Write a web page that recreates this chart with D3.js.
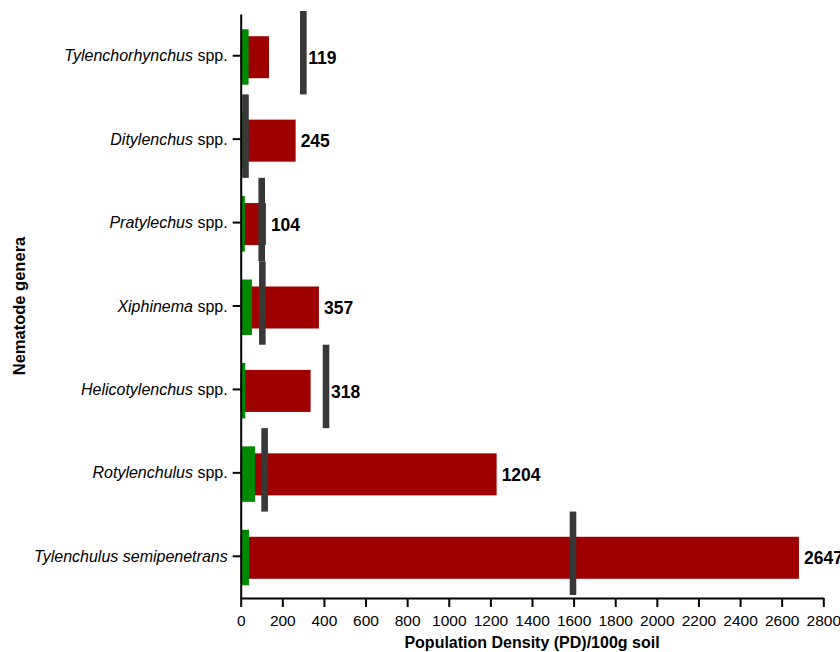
<!DOCTYPE html>
<html>
<head>
<meta charset="utf-8">
<script src="https://cdn.jsdelivr.net/npm/d3@7"></script>
<style>
  body { margin: 0; background: #fff; }
  svg { display: block; font-family: Arial, "Liberation Sans", sans-serif; }
</style>
</head>
<body>
<svg id="chart" width="840" height="652"></svg>
<script>
// genus (italic) + suffix (upright)
const genus  = ["Tylenchorhynchus", "Ditylenchus", "Pratylechus", "Xiphinema", "Helicotylenchus", "Rotylenchulus", "Tylenchulus semipenetrans"]
const suffix = [" spp.", " spp.", " spp.", " spp.", " spp.", " spp.", ""]

// values
const greenPD  = [38, 35, 20, 54, 22, 69, 40]
const redPD    = [136, 264, 121, 376, 336, 1230, 2683]
const markerPD = [301, 23, 101, 104, 410, 115, 1597]
const valueLabels = ["119", "245", "104", "357", "318", "1204", "2647"]

const xTicks = d3.range(0, 2801, 200)

const svg = d3.select("#chart")
const plotLeft = 240.7, plotRight = 823.3, plotTop = 14, plotBottom = 598

const x = d3.scaleLinear().domain([0, 2800]).range([plotLeft, plotRight])
const y = d3.scaleBand().domain(genus).range([plotTop, plotBottom])
const bw = y.bandwidth()

const rows = genus.map((g, i) => ({
	g: g, s: suffix[i], green: greenPD[i], red: redPD[i], marker: markerPD[i], label: valueLabels[i]
}))

// red bars
svg.append("g").selectAll("rect")
	.data(rows).join("rect")
	.attr("x", x(0))
	.attr("y", d => y(d.g) + bw / 2 - 21 + 1.5)
	.attr("width", d => x(d.red) - x(0))
	.attr("height", 42)
	.attr("fill", "#9e0000")

// green bars
svg.append("g").selectAll("rect")
	.data(rows).join("rect")
	.attr("x", x(0) + 1)
	.attr("y", d => y(d.g) + bw / 2 - 27.5 + 1)
	.attr("width", d => x(d.green) - x(0) - 1)
	.attr("height", 55.5)
	.attr("fill", "#008a00")

// grey markers
svg.append("g").selectAll("rect")
	.data(rows).join("rect")
	.attr("x", d => x(d.marker) - 3.3)
	.attr("y", d => y(d.g) - 3)
	.attr("width", 6.6)
	.attr("height", bw)
	.attr("fill", "#383838")

// value labels
svg.append("g").selectAll("text")
	.data(rows).join("text")
	.attr("x", d => x(Math.max(d.red, d.marker)) + 5)
	.attr("y", d => y(d.g) + bw / 2 + 2)
	.attr("dy", "0.35em")
	.attr("font-size", 17.5)
	.attr("font-weight", "bold")
	.attr("fill", "#000")
	.text(d => d.label)

// x axis
const xAxis = svg.append("g")
	.attr("transform", `translate(0,${plotBottom})`)
	.call(d3.axisBottom(x).tickValues(xTicks).tickSize(9).tickSizeOuter(0).tickPadding(8).tickFormat(d3.format("d")))
xAxis.select(".domain").attr("stroke", "#000").attr("stroke-width", 2)
xAxis.selectAll(".tick line").attr("stroke", "#000").attr("stroke-width", 2)
xAxis.selectAll(".tick text").attr("font-size", 15.5).attr("font-family", null).attr("fill", "#000")

// y axis
const yAxis = svg.append("g")
	.attr("transform", `translate(${plotLeft},0)`)
	.call(d3.axisLeft(y).tickSize(8).tickSizeOuter(0).tickPadding(3).tickFormat(""))
yAxis.select(".domain").attr("stroke", "#000").attr("stroke-width", 2)
yAxis.selectAll(".tick line").attr("stroke", "#000").attr("stroke-width", 2)

// category labels, italic genus
const cat = svg.append("g").selectAll("text")
	.data(rows).join("text")
	.attr("x", plotLeft - 13)
	.attr("y", d => y(d.g) + bw / 2)
	.attr("dy", "0.35em")
	.attr("text-anchor", "end")
	.attr("font-size", 16)
	.attr("fill", "#000")
cat.append("tspan").attr("font-style", "italic").text(d => d.g)
cat.append("tspan").text(d => d.s)

// axis titles
svg.append("text")
	.attr("x", (plotLeft + plotRight) / 2)
	.attr("y", 648)
	.attr("text-anchor", "middle")
	.attr("font-size", 16)
	.attr("font-weight", "bold")
	.text("Population Density (PD)/100g soil")

svg.append("text")
	.attr("transform", `translate(25,${(plotTop + plotBottom) / 2}) rotate(-90)`)
	.attr("text-anchor", "middle")
	.attr("font-size", 16.5)
	.attr("font-weight", "bold")
	.text("Nematode genera")
</script>
</body>
</html>
